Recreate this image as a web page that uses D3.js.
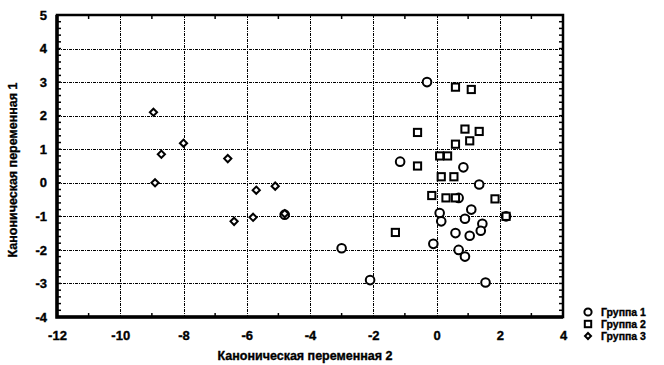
<!DOCTYPE html>
<html>
<head>
<meta charset="utf-8">
<script src="https://cdn.jsdelivr.net/npm/d3@7"></script>
<style>
  body { margin: 0; background: #fff; }
  text { font-family: "Liberation Sans", Arial, sans-serif; font-weight: bold; fill: #000; stroke: #000; stroke-width: 0.35px; }
</style>
</head>
<body>
<svg id="chart"></svg>
<script>
// data: [x = canonical var 2, y = canonical var 1]
const group1 = [[-0.3,3.0],[-1.15,0.63],[0.85,0.46],[1.35,-0.05],[0.7,-0.45],[0.1,-0.9],[0.15,-1.15],
  [1.1,-0.8],[0.9,-1.07],[2.2,-1.0],[1.45,-1.22],[1.4,-1.43],[0.6,-1.5],[1.05,-1.58],[-0.1,-1.82],
  [0.7,-2.0],[0.9,-2.2],[1.55,-2.97],[-3.0,-1.95],[-2.1,-2.9],[-4.8,-0.95]];
const group2 = [[0.6,2.85],[1.1,2.78],[-0.6,1.5],[0.9,1.6],[1.35,1.53],[1.05,1.25],[0.6,1.15],
  [0.1,0.8],[0.35,0.8],[-0.6,0.5],[0.15,0.18],[0.55,0.18],[-0.15,-0.38],[0.3,-0.45],[0.6,-0.45],
  [1.85,-0.48],[2.2,-1.0],[-1.3,-1.48]];
const group3 = [[-8.95,2.1],[-8.0,1.18],[-8.7,0.85],[-6.6,0.72],[-8.9,0.0],[-5.7,-0.22],[-5.1,-0.1],
  [-6.4,-1.15],[-5.8,-1.03],[-4.8,-0.92]];
const xTicks = [-12,-10,-8,-6,-4,-2,0,2,4];
const yTicks = [-4,-3,-2,-1,0,1,2,3,4,5];
const legendNames = ["Группа 1","Группа 2","Группа 3"];
const xTitle = "Каноническая переменная 2";
const yTitle = "Каноническая переменная 1";

const width = 664, height = 365;
const margin = { top: 15, right: 101, bottom: 48, left: 57 };

const svg = d3.select("#chart").attr("width", width).attr("height", height);

const x = d3.scaleLinear().domain([-12, 4]).range([margin.left, width - margin.right]);
const y = d3.scaleLinear().domain([-4, 5]).range([height - margin.bottom, margin.top]);

// grid
const grid = svg.append("g").attr("stroke", "#000").attr("stroke-width", 1)
  .attr("stroke-dasharray", "3,1,1,1").attr("shape-rendering", "crispEdges");
grid.selectAll(".gx").data(xTicks.filter(d => d > -12 && d < 4)).join("line")
  .attr("x1", d => Math.round(x(d)) + 0.5).attr("x2", d => Math.round(x(d)) + 0.5)
  .attr("y1", y(5)).attr("y2", y(-4));
grid.selectAll(".gy").data(yTicks.filter(d => d > -4 && d < 5)).join("line")
  .attr("y1", d => Math.round(y(d)) + 0.5).attr("y2", d => Math.round(y(d)) + 0.5)
  .attr("x1", x(-12)).attr("x2", x(4));

// minor ticks (inward)
const minorX = d3.range(-11, 4, 2);
const minorY = d3.range(-4, 5.001, 0.2);
const mt = svg.append("g").attr("stroke", "#000").attr("stroke-width", 1.5);
mt.selectAll(".mb").data(minorX).join("line")
  .attr("x1", d => x(d)).attr("x2", d => x(d)).attr("y1", y(-4)).attr("y2", y(-4) - 4);
mt.selectAll(".mt").data(minorX).join("line")
  .attr("x1", d => x(d)).attr("x2", d => x(d)).attr("y1", y(5)).attr("y2", y(5) + 4);
mt.selectAll(".ml").data(minorY).join("line")
  .attr("y1", d => y(d)).attr("y2", d => y(d)).attr("x1", x(-12)).attr("x2", x(-12) + 4);
mt.selectAll(".mr").data(minorY).join("line")
  .attr("y1", d => y(d)).attr("y2", d => y(d)).attr("x1", x(4)).attr("x2", x(4) - 4);

// axes (labels only)
const gx = svg.append("g").attr("transform", `translate(0,${y(-4)})`)
  .call(d3.axisBottom(x).tickValues(xTicks).tickSize(0).tickPadding(14).tickFormat(d3.format("d")));
const gy = svg.append("g").attr("transform", `translate(${x(-12)},0)`)
  .call(d3.axisLeft(y).tickValues(yTicks).tickSize(0).tickPadding(10).tickFormat(d3.format("d")));
[gx, gy].forEach(g => {
  g.select(".domain").remove();
  g.selectAll("text").attr("font-size", 13).attr("font-family", null);
});
gx.selectAll("text").text(d => d < 0 ? "-" + Math.abs(d) : d);
gy.selectAll("text").text(d => d < 0 ? "-" + Math.abs(d) : d);

// frame
svg.append("rect").attr("x", x(-12)).attr("y", y(5))
  .attr("width", x(4) - x(-12)).attr("height", y(-4) - y(5))
  .attr("fill", "none").attr("stroke", "#000").attr("stroke-width", 2.5);
svg.append("path")
  .attr("d", `M${x(-12)},${y(5)}V${y(-4)}H${x(4)}`)
  .attr("fill", "none").attr("stroke", "#000").attr("stroke-width", 3.5);

// markers
const circle = (g) => g.append("circle").attr("r", 4.3);
const square = (g) => g.append("rect").attr("x", -3.6).attr("y", -3.6).attr("width", 7.2).attr("height", 7.2);
const diamond = (g) => g.append("path").attr("d", "M0,-3.6L3.6,0L0,3.6L-3.6,0Z");
const shapes = [circle, square, diamond];
const groups = [group1, group2, group3];

const pts = svg.append("g").attr("fill", "#fff").attr("stroke", "#000").attr("stroke-width", 2);
groups.forEach((data, i) => {
  pts.selectAll(".p" + i).data(data).join("g").attr("class", "p" + i)
    .attr("transform", d => `translate(${x(d[0])},${y(d[1])})`)
    .each(function() { shapes[i](d3.select(this)); });
});

// legend
const legend = svg.append("g");
legendNames.forEach((name, i) => {
  const row = legend.append("g").attr("transform", `translate(588,${312 + i * 12})`);
  const m = row.append("g").attr("fill", "#fff").attr("stroke", "#000").attr("stroke-width", 2);
  if (i === 0) m.append("circle").attr("r", 3.6);
  if (i === 1) m.append("rect").attr("x", -3.2).attr("y", -3.2).attr("width", 6.4).attr("height", 6.4);
  if (i === 2) m.append("path").attr("d", "M0,-3L3,0L0,3L-3,0Z");
  row.append("text").attr("x", 13).attr("dy", "0.36em").attr("font-size", 10.5).text(name);
});

// titles
svg.append("text").attr("x", 305).attr("y", 360).attr("text-anchor", "middle")
  .attr("font-size", 12.5).text(xTitle);
svg.append("text").attr("transform", "translate(17,170) rotate(-90)").attr("text-anchor", "middle")
  .attr("font-size", 12.5).text(yTitle);
</script>
</body>
</html>
